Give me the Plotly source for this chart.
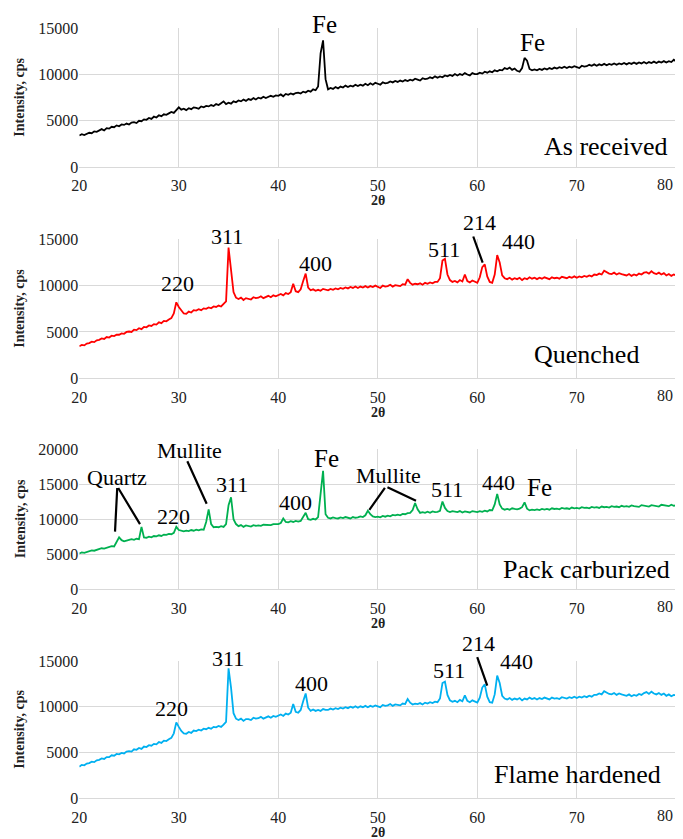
import plotly.graph_objects as go

# ---------------- data ----------------
two_theta = [20 + 0.25 * i for i in range(241)]   # 20 .. 80 deg, 0.25 deg step

as_received = [
    3400, 3550, 3450, 3600,   # 20
    3700, 3650, 3850, 3800,   # 21
    3950, 4100, 3950, 4200,   # 22
    4150, 4350, 4300, 4500,   # 23
    4400, 4600, 4550, 4700,   # 24
    4600, 4800, 4850, 4750,   # 25
    5000, 4950, 5150, 5100,   # 26
    5300, 5200, 5450, 5350,   # 27
    5600, 5500, 5700, 5650,   # 28
    5800, 5950, 5850, 6100,   # 29
    6450, 6200, 6300, 6150,   # 30
    6350, 6250, 6450, 6400,   # 31
    6300, 6550, 6450, 6600,   # 32
    6550, 6700, 6600, 6800,   # 33
    6700, 6900, 7100, 6800,   # 34
    6950, 6850, 7100, 7000,   # 35
    7200, 7100, 7300, 7150,   # 36
    7350, 7250, 7450, 7300,   # 37
    7500, 7400, 7600, 7450,   # 38
    7550, 7700, 7600, 7750,   # 39
    7700, 7850, 7650, 7900,   # 40
    7800, 7950, 7850, 8000,   # 41
    8050, 7950, 8150, 8050,   # 42
    8250, 8150, 8400, 8300,   # 43
    8700, 12300, 13700, 9500, # 44
    8400, 8550, 8450, 8650,   # 45
    8500, 8700, 8600, 8800,   # 46
    8650, 8800, 8700, 8900,   # 47
    8750, 8900, 8800, 9000,   # 48
    8850, 9050, 8900, 9100,   # 49
    9000, 8900, 9150, 9050,   # 50
    9100, 9250, 9150, 9300,   # 51
    9200, 9350, 9250, 9400,   # 52
    9300, 9450, 9350, 9550,   # 53
    9450, 9350, 9600, 9500,   # 54
    9550, 9700, 9600, 9800,   # 55
    9650, 9800, 9700, 9900,   # 56
    9800, 9950, 9850, 10050,  # 57
    9900, 10050, 9950, 10150, # 58
    10000, 9900, 10150, 10050,  # 59
    10050, 10200, 10100, 10300, # 60
    10200, 10350, 10250, 10450, # 61
    10350, 10500, 10450, 10700, # 62
    10600, 10750, 10500, 10650, # 63
    10400, 10300, 10700, 11800, # 64
    11500, 10600, 10450, 10550, # 65
    10450, 10600, 10500, 10650, # 66
    10550, 10700, 10600, 10750, # 67
    10650, 10800, 10700, 10850, # 68
    10700, 10850, 10750, 10900, # 69
    10800, 10700, 10950, 10850, # 70
    10900, 11050, 10950, 11100, # 71
    10950, 11100, 11000, 11150, # 72
    11000, 11150, 11050, 11200, # 73
    11050, 11200, 11100, 11250, # 74
    11100, 11250, 11150, 11300, # 75
    11150, 11300, 11200, 11350, # 76
    11200, 11350, 11250, 11400, # 77
    11250, 11400, 11300, 11450, # 78
    11300, 11450, 11350, 11600, # 79
    11400,                      # 80
]

quenched = [
    3450, 3600, 3550, 3750,   # 20
    3800, 3950, 3900, 4100,   # 21
    4150, 4300, 4250, 4450,   # 22
    4400, 4600, 4550, 4700,   # 23
    4700, 4850, 4800, 5000,   # 24
    5050, 5000, 5250, 5200,   # 25
    5400, 5300, 5550, 5500,   # 26
    5700, 5650, 5850, 5800,   # 27
    6050, 5950, 6200, 6150,   # 28
    6350, 6500, 7000, 8200,   # 29
    7700, 7300, 7000, 6950,   # 30
    7200, 7100, 7350, 7300,   # 31
    7450, 7350, 7550, 7500,   # 32
    7650, 7550, 7750, 7700,   # 33
    7850, 7750, 8000, 8300,   # 34
    14100, 12000, 9300, 8700, # 35
    8550, 8700, 8450, 8650,   # 36
    8600, 8500, 8750, 8650,   # 37
    8700, 8850, 8650, 8800,   # 38
    8900, 8750, 8950, 8850,   # 39
    8950, 9100, 8950, 9200,   # 40
    9100, 9300, 10200, 9400,  # 41
    9300, 9600, 10500, 11300, # 42
    9800, 9500, 9600, 9450,   # 43
    9550, 9450, 9650, 9550,   # 44
    9500, 9650, 9550, 9700,   # 45
    9600, 9750, 9650, 9800,   # 46
    9700, 9850, 9750, 9900,   # 47
    9750, 9900, 9800, 9950,   # 48
    9800, 9950, 9850, 10000,  # 49
    9850, 9750, 10000, 9900,  # 50
    9950, 10100, 9900, 10050, # 51
    10000, 9950, 10150, 10100,  # 52
    10700, 10300, 10100, 10200, # 53
    10150, 10250, 10100, 10300, # 54
    10200, 10350, 10250, 10400, # 55
    10400, 10800, 12700, 12900, # 56
    11200, 10600, 10400, 10500, # 57
    10350, 10600, 10450, 11200, # 58
    10500, 10350, 10550, 10400, # 59
    10300, 10900, 12000, 12300, # 60
    11000, 10400, 10300, 11200, # 61
    13300, 12500, 11100, 10800, # 62
    10700, 10850, 10650, 10800, # 63
    10700, 10850, 10600, 10800, # 64
    10700, 10900, 10750, 10850, # 65
    10700, 10850, 10750, 10900, # 66
    10800, 10700, 10900, 10800, # 67
    10850, 10750, 10950, 10850, # 68
    10800, 10950, 10850, 11000, # 69
    10850, 11000, 10900, 11050, # 70
    10950, 11100, 11000, 11200, # 71
    11150, 11300, 11200, 11600, # 72
    11400, 11300, 11250, 11400, # 73
    11200, 11350, 11250, 11150, # 74
    11100, 11250, 11050, 11200, # 75
    11100, 11300, 11200, 11400, # 76
    11450, 11300, 11550, 11350, # 77
    11250, 11400, 11200, 11350, # 78
    11100, 11250, 11050, 11200, # 79
    11100,                      # 80
]

pack_carburized = [
    5100, 5250, 5200, 5350,   # 20
    5400, 5550, 5500, 5650,   # 21
    5700, 5850, 5800, 5950,   # 22
    6000, 6150, 6100, 6800,   # 23
    7400, 7000, 6850, 6950,   # 24
    7000, 7150, 7050, 7200,   # 25
    7150, 8900, 7400, 7350,   # 26
    7500, 7400, 7600, 7550,   # 27
    7700, 7600, 7800, 7750,   # 28
    7900, 7850, 8050, 8900,   # 29
    8450, 8300, 8250, 8350,   # 30
    8300, 8450, 8350, 8500,   # 31
    8400, 8550, 8500, 9600,   # 32
    11400, 9300, 8850, 8900,  # 33
    8850, 9000, 8900, 9300,   # 34
    12000, 13100, 10000, 9300,  # 35
    9000, 9150, 8900, 9100,   # 36
    9000, 8950, 9150, 9050,   # 37
    9100, 9050, 9200, 9150,   # 38
    9200, 9150, 9300, 9250,   # 39
    9300, 9450, 10100, 9600,  # 40
    9550, 9700, 9600, 9750,   # 41
    9650, 9750, 10400, 10900, # 42
    10000, 9900, 10050, 9950, # 43
    10300, 14000, 16900, 10700, # 44
    10200, 10100, 10250, 10150, # 45
    10100, 10250, 10150, 10300, # 46
    10200, 10100, 10300, 10200, # 47
    10250, 10400, 10300, 10550, # 48
    11200, 10700, 10400, 10300, # 49
    10350, 10250, 10450, 10350, # 50
    10500, 10400, 10600, 10550, # 51
    10650, 10550, 10750, 10700, # 52
    10850, 10900, 11300, 12300, # 53
    11400, 10900, 11000, 10900, # 54
    11050, 10900, 11100, 11000, # 55
    11050, 11200, 12500, 11600, # 56
    11150, 11000, 11150, 11050, # 57
    11000, 11150, 10950, 11100, # 58
    11050, 10950, 11150, 11050, # 59
    11000, 11150, 11050, 11200, # 60
    11100, 11300, 11250, 12100, # 61
    13600, 12100, 11500, 11350, # 62
    11450, 11350, 11550, 11450, # 63
    11400, 11500, 11700, 12400, # 64
    11500, 11250, 11350, 11300, # 65
    11400, 11300, 11450, 11350, # 66
    11450, 11350, 11550, 11450, # 67
    11500, 11400, 11600, 11500, # 68
    11550, 11450, 11650, 11550, # 69
    11600, 11500, 11700, 11600, # 70
    11650, 11550, 11750, 11650, # 71
    11700, 11600, 11800, 11700, # 72
    11750, 11650, 11850, 11750, # 73
    11800, 11700, 11900, 11800, # 74
    11850, 11750, 11950, 11850, # 75
    11850, 11750, 12000, 11900, # 76
    11900, 11800, 12000, 11900, # 77
    11900, 11800, 12050, 11950, # 78
    11950, 11850, 12050, 11900, # 79
    12000,                      # 80
]

flame_hardened = [
    3450, 3650, 3600, 3800,   # 20
    3850, 4000, 3950, 4150,   # 21
    4200, 4350, 4300, 4500,   # 22
    4500, 4700, 4650, 4850,   # 23
    4800, 4950, 4900, 5100,   # 24
    5150, 5100, 5350, 5300,   # 25
    5500, 5400, 5650, 5600,   # 26
    5800, 5750, 5950, 5900,   # 27
    6150, 6050, 6300, 6250,   # 28
    6450, 6600, 7100, 8300,   # 29
    7800, 7350, 7100, 7050,   # 30
    7250, 7150, 7400, 7350,   # 31
    7500, 7400, 7600, 7550,   # 32
    7700, 7600, 7800, 7750,   # 33
    7900, 7800, 8050, 8350,   # 34
    14200, 12100, 9300, 8700, # 35
    8550, 8700, 8450, 8650,   # 36
    8650, 8550, 8800, 8700,   # 37
    8750, 8900, 8700, 8850,   # 38
    8950, 8800, 9000, 8900,   # 39
    9000, 9150, 9000, 9250,   # 40
    9150, 9350, 10300, 9450,  # 41
    9350, 9650, 10600, 11450, # 42
    9900, 9550, 9700, 9550,   # 43
    9650, 9550, 9750, 9650,   # 44
    9650, 9800, 9700, 9850,   # 45
    9750, 9900, 9800, 9950,   # 46
    9850, 10000, 9900, 10050, # 47
    9900, 10050, 9950, 10100, # 48
    9950, 10100, 10000, 10150,  # 49
    10050, 9950, 10200, 10100,  # 50
    10150, 10300, 10100, 10250, # 51
    10200, 10150, 10350, 10300, # 52
    10850, 10450, 10250, 10350, # 53
    10300, 10400, 10250, 10450, # 54
    10350, 10500, 10400, 10550, # 55
    10500, 10900, 12600, 12750, # 56
    11300, 10700, 10550, 10650, # 57
    10500, 10750, 10600, 11250, # 58
    10650, 10500, 10700, 10550, # 59
    10450, 11000, 12100, 12450, # 60
    11100, 10500, 10450, 11350, # 61
    13400, 12600, 11200, 10900, # 62
    10800, 10950, 10750, 10900, # 63
    10800, 10950, 10700, 10900, # 64
    10800, 11000, 10850, 10950, # 65
    10800, 10950, 10850, 11000, # 66
    10900, 10800, 11000, 10900, # 67
    10950, 10850, 11050, 10950, # 68
    10900, 11050, 10950, 11100, # 69
    10950, 11100, 11000, 11150, # 70
    11050, 11200, 11100, 11300, # 71
    11300, 11450, 11350, 11700, # 72
    11550, 11400, 11350, 11500, # 73
    11300, 11450, 11350, 11250, # 74
    11200, 11350, 11150, 11300, # 75
    11200, 11400, 11300, 11500, # 76
    11600, 11400, 11650, 11450, # 77
    11350, 11500, 11300, 11450, # 78
    11200, 11350, 11150, 11300, # 79
    11250,                      # 80
]

sample_names = ["As received", "Quenched", "Pack carburized", "Flame hardened"]
line_colors = ["#000000", "#FF0000", "#00B050", "#00B0F0"]
y_max = [15000, 15000, 20000, 15000]
x_ticks = [20, 30, 40, 50, 60, 70, 80]
x_tick_text = ["20", "30", "40", "50", "60", "70", ""]   # "80" is drawn as an edge-aligned label
x_last_tick_text = "80"

# peak labels: (panel, text, x, y, font size)
peak_labels = [
    (1, "Fe", 44.64, 15357, 25), (1, "Fe", 65.55, 13465, 25),
    (2, "220", 29.85, 10284, 22), (2, "311", 34.87, 15356, 22), (2, "400", 43.69, 12435, 22),
    (2, "511", 56.65, 13946, 22), (2, "214", 60.27, 16866, 22), (2, "440", 64.09, 14816, 22),
    (3, "Quartz", 23.79, 15971, 22), (3, "Mullite", 31.10, 19757, 22), (3, "220", 29.42, 10400, 22),
    (3, "311", 35.32, 14900, 22), (3, "400", 41.73, 12400, 22), (3, "Fe", 44.84, 18600, 25),
    (3, "Mullite", 51.03, 16186, 22), (3, "511", 56.95, 14186, 22), (3, "440", 62.08, 15257, 22),
    (3, "Fe", 66.30, 14543, 25),
    (4, "220", 29.22, 9865, 22), (4, "311", 34.94, 15328, 22), (4, "400", 43.34, 12597, 22),
    (4, "511", 57.16, 14017, 22), (4, "214", 60.07, 16858, 22), (4, "440", 63.89, 15000, 22),
]
# leader lines: (panel, x_start, y_start, x_end, y_end)
leader_lines = [
    (2, 59.54, 15464, 60.54, 12474),
    (3, 23.82, 14657, 23.59, 8229), (3, 23.82, 14657, 26.10, 9286),
    (3, 30.79, 18471, 32.80, 12186),
    (3, 50.82, 14657, 49.15, 11329), (3, 50.82, 14657, 53.84, 12614),
    (4, 59.94, 15579, 61.00, 12302),
]
# sample label anchor (right edge x, centre y) in data units
sample_label_pos = [(79.27, 2195), (76.43, 2622), (79.54, 2757), (78.69, 2578)]

# ---------------- layout geometry (pixels in the final screenshot) ----------------
W, H = 683, 839
PAGE_OFFSET = 8          # default <body> margin of the written html page
x_left_px, x_right_px = 79.3, 676.3
panels_px = [(28.3, 167.0), (239.3, 378.3), (449.0, 589.3), (661.0, 798.3)]


def px_x(px):
    return (px - PAGE_OFFSET) / W


def px_y(py):
    return 1 - (py - PAGE_OFFSET) / H


serif = "Liberation Serif"
grid_col = "#D9D9D9"

fig = go.Figure()
layout = dict(
    width=W, height=H, margin=dict(l=0, r=0, t=0, b=0, autoexpand=False),
    paper_bgcolor="white", plot_bgcolor="white", showlegend=False,
    font=dict(family=serif, color="black"),
)
annotations = []

series = [as_received, quenched, pack_carburized, flame_hardened]
for i, (ys, name, col, ym) in enumerate(zip(series, sample_names, line_colors, y_max)):
    n = i + 1
    xa = "x" if n == 1 else f"x{n}"
    ya = "y" if n == 1 else f"y{n}"
    fig.add_trace(go.Scatter(x=two_theta, y=ys, mode="lines", xaxis=xa, yaxis=ya,
                             line=dict(color=col, width=1.8), name=name, hoverinfo="skip"))
    top_px, bot_px = panels_px[i]
    layout["xaxis" if n == 1 else f"xaxis{n}"] = dict(
        domain=[px_x(x_left_px), px_x(x_right_px)], anchor=ya, range=[20, 80], automargin=False,
        tickmode="array", tickvals=x_ticks, ticktext=x_tick_text,
        showgrid=True, gridcolor=grid_col, gridwidth=1,
        zeroline=False, showline=True, linecolor=grid_col, linewidth=1,
        ticks="outside", ticklen=4, tickcolor="rgba(0,0,0,0)",
        tickfont=dict(family=serif, size=16, color="#222"),
    )
    layout["yaxis" if n == 1 else f"yaxis{n}"] = dict(
        domain=[px_y(bot_px), px_y(top_px)], anchor=xa, range=[0, ym], automargin=False,
        dtick=5000, tick0=0, tickformat="d", showgrid=True, gridcolor=grid_col, gridwidth=1,
        zeroline=False, showline=False, ticks="",
        tickfont=dict(family=serif, size=16, color="#222"),
    )
    # last x tick label, kept inside the page edge
    annotations.append(dict(xref=xa, yref=ya, x=80, y=0, text=x_last_tick_text, showarrow=False,
                            xanchor="right", yanchor="middle", xshift=-1, yshift=-17,
                            font=dict(family=serif, size=16, color="#222")))
    # axis titles
    annotations.append(dict(xref="paper", yref="paper", x=px_x(20), y=px_y((top_px + bot_px) / 2),
                            text="<b>Intensity, cps</b>", textangle=-90, showarrow=False,
                            font=dict(family=serif, size=14, color="#222"),
                            xanchor="center", yanchor="middle"))
    annotations.append(dict(xref="paper", yref="paper", x=px_x((x_left_px + x_right_px) / 2),
                            y=px_y(bot_px + 34), text="<b>2θ</b>", showarrow=False,
                            font=dict(family=serif, size=14, color="#222"),
                            xanchor="center", yanchor="middle"))
    sx, sy = sample_label_pos[i]
    annotations.append(dict(xref=xa, yref=ya, x=sx, y=sy, text=name, showarrow=False,
                            xanchor="right", yanchor="middle",
                            font=dict(family=serif, size=26, color="black")))

panel_h = {i + 1: panels_px[i][1] - panels_px[i][0] for i in range(4)}
for (p, txt, x, y, fs) in peak_labels:
    xa = "x" if p == 1 else f"x{p}"
    ya = "y" if p == 1 else f"y{p}"
    ym = y_max[p - 1]
    shift = 0
    if y > ym * 0.98:
        shift = (y - ym * 0.98) / ym * panel_h[p]
        y = ym * 0.98
    annotations.append(dict(xref=xa, yref=ya, x=x, y=y, yshift=shift, text=txt, showarrow=False,
                            xanchor="center", yanchor="middle",
                            font=dict(family=serif, size=fs, color="black")))

for (p, x0, y0, x1, y1) in leader_lines:
    xa = "x" if p == 1 else f"x{p}"
    ya = "y" if p == 1 else f"y{p}"
    annotations.append(dict(xref=xa, yref=ya, x=x1, y=y1, axref=xa, ayref=ya, ax=x0, ay=y0,
                            text="", showarrow=True, arrowhead=0, arrowwidth=2.2,
                            arrowcolor="black", standoff=0, startstandoff=0))

layout["annotations"] = annotations
fig.update_layout(**layout)

assert all(len(s) == len(two_theta) for s in series), [len(s) for s in series]

fig.write_html("out.html")
